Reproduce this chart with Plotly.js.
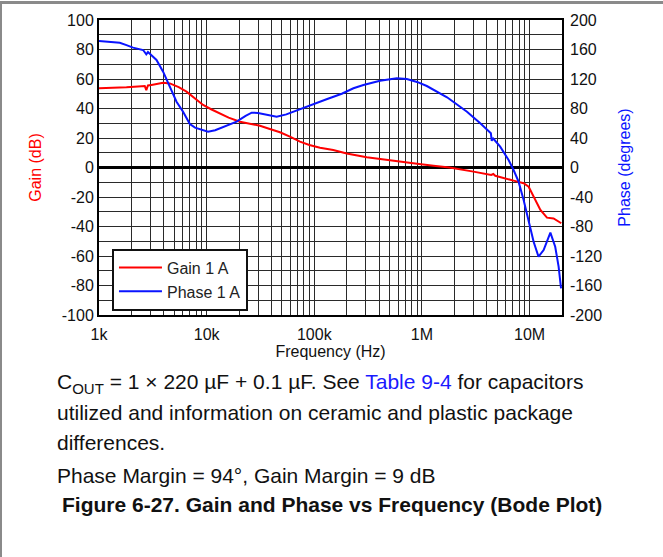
<!DOCTYPE html>
<html>
<head>
<meta charset="utf-8">
<script src="https://cdn.plot.ly/plotly-3.0.1.min.js"></script>
<style>
  html, body { margin: 0; padding: 0; background: #fff; }
  #wrap { position: relative; width: 663px; height: 557px; overflow: hidden; font-family: "Liberation Sans", Arial, sans-serif; }
  #chart { position: absolute; left: 0; top: 0; width: 663px; height: 557px; }
  #frameTop { position: absolute; left: 0; top: 1px; width: 663px; height: 0; border-top: 3px solid #8a8a8a; }
  #frameLeft { position: absolute; left: 0; top: 1px; width: 0; height: 556px; border-left: 2px solid #8a8a8a; }
  .txt { position: absolute; font-size: 21px; line-height: 21px; color: #111; white-space: nowrap; }
  .cap { font-weight: bold; }
  sub { font-size: 15px; vertical-align: -5px; line-height: 0; }
  .link { color: #1a1aff; }
</style>
</head>
<body>
<div id="wrap">
  <div id="chart"></div>
  <div id="frameTop"></div>
  <div id="frameLeft"></div>
  <div class="txt" style="left:57px; top:371px;">C<sub>OUT</sub> = 1 × 220 µF + 0.1 µF. See <span class="link">Table 9-4</span> for capacitors</div>
  <div class="txt" style="left:57px; top:402px;">utilized and information on ceramic and plastic package</div>
  <div class="txt" style="left:57px; top:432px;">differences.</div>
  <div class="txt" style="left:57px; top:465px;">Phase Margin = 94°, Gain Margin = 9 dB</div>
  <div class="txt cap" style="left:62px; top:494px;">Figure 6-27. Gain and Phase vs Frequency (Bode Plot)</div>
</div>
<script>
// ---- Data ----
const gainFreq = [1000, 1400, 1800, 2300, 2660, 2750, 2850, 3070, 3500, 3940, 4550, 5500, 6500, 8000, 9270,
  11000, 13300, 16000, 20400, 25000, 31300, 38000, 48000, 60000, 73600, 90000, 113000, 150000, 200000,
  307000, 450000, 627000, 900000, 1280000, 1800000, 3010000, 4400000, 4600000, 4800000, 7100000,
  8800000, 9800000, 10900000, 12600000, 14500000, 16700000, 19700000];
const gainDb = [53.7, 54.0, 54.4, 55.0, 55.3, 52.5, 55.6, 56.0, 56.8, 57.5, 57.0, 54.5, 51.4, 46.5, 42.4,
  39.5, 36.7, 33.8, 31.0, 29.5, 28.3, 26.3, 23.9, 20.8, 17.5, 15.3, 13.4, 11.9, 9.5,
  6.9, 5.2, 3.9, 2.6, 1.2, 0.0, -2.8, -5.0, -4.4, -5.6, -8.9,
  -10.7, -13.0, -19.8, -28.8, -34.0, -34.5, -37.8];

const phaseFreq = [1000, 1200, 1560, 1800, 2070, 2570, 2700, 2750, 2850, 3100, 3420, 3940, 4550, 5250, 6040,
  6980, 7800, 8650, 10300, 12000, 13300, 16000, 19000, 23000, 26200, 30000, 33600, 38000, 44700, 55000,
  63800, 73600, 90000, 113000, 130000, 180000, 231000, 286000, 408000, 584000, 724000, 900000, 1110000,
  1710000, 2620000, 3480000, 4370000, 4450000, 4550000, 5330000, 6380000, 7100000, 7900000, 8800000,
  9800000, 10900000, 12100000, 13500000, 15600000, 17300000, 18600000, 19600000];
const phaseDeg = [171.5, 170.5, 169.2, 166, 162.5, 159.3, 156, 153.5, 156.5, 152, 145.8, 129.9, 109.6, 89.2, 75.7,
  59, 54, 51.8, 48.5, 50.5, 53.2, 57.5, 62.1, 70, 74.3, 74, 72.5, 71, 69, 72,
  75.7, 78.9, 83.5, 89.2, 92.5, 100, 107.4, 111.9, 117.7, 121, 120, 116, 110.5,
  95.2, 75.7, 59.9, 46.4, 36, 40, 28.2, 10.2, -3.4, -19.2, -44,
  -71, -100.6, -120.9, -111.9, -88.4, -107.4, -134.5, -163.8];

const seriesNames = ['Gain 1 A', 'Phase 1 A'];

// Tick labels
const gainTicks = [-100, -80, -60, -40, -20, 0, 20, 40, 60, 80, 100];
const gainTickText = ['-100', '-80', '-60', '-40', '-20', '0', '20', '40', '60', '80', '100'];
const phaseTicks = [-200, -160, -120, -80, -40, 0, 40, 80, 120, 160, 200];
const phaseTickText = ['-200', '-160', '-120', '-80', '-40', '0', '40', '80', '120', '160', '200'];
const decadeVals = [1000, 10000, 100000, 1000000, 10000000];
const decadeText = ['1k', '10k', '100k', '1M', '10M'];

const xTickVals = [];
const xTickText = [];
decadeVals.forEach((d, i) => {
  for (let m = 1; m <= 9; m++) {
    const v = d * m;
    if (v > 20000000) break;
    xTickVals.push(v);
    xTickText.push(m === 1 ? decadeText[i] : '');
  }
});

const FONT = '"Liberation Sans", Arial, sans-serif';
const GRID = '#2a2a2a';

const traces = [
  { x: gainFreq, y: gainDb, type: 'scatter', mode: 'lines', name: seriesNames[0],
    line: { color: '#ff0000', width: 2 }, yaxis: 'y' },
  { x: phaseFreq, y: phaseDeg, type: 'scatter', mode: 'lines', name: seriesNames[1],
    line: { color: '#0a14ff', width: 2 }, yaxis: 'y2' }
];

const layout = {
  width: 663, height: 557,
  margin: { l: 99, r: 101, t: 20, b: 242, pad: 0 },
  paper_bgcolor: 'rgba(0,0,0,0)', plot_bgcolor: '#fff',
  font: { family: FONT, size: 16, color: '#111' },
  showlegend: true,
  legend: {
    x: 0.028, y: 0.225, xanchor: 'left', yanchor: 'top',
    bgcolor: '#fff', bordercolor: '#111', borderwidth: 2,
    font: { family: FONT, size: 16, color: '#222' },
    tracegroupgap: 0, itemwidth: 43
  },
  xaxis: {
    type: 'log', range: [3, Math.log10(20000000)],
    tickmode: 'array', tickvals: xTickVals, ticktext: xTickText,
    showgrid: true, gridcolor: GRID, gridwidth: 1,
    showline: true, linecolor: '#000', linewidth: 2, mirror: true,
    ticks: '', ticklabelstandoff: 4, tickfont: { size: 16, color: '#111' },
    title: { text: 'Frequency (Hz)', font: { size: 16, color: '#111' }, standoff: 2 },
    zeroline: false, automargin: false
  },
  yaxis: {
    range: [-100, 100], tickmode: 'array', tickvals: gainTicks, ticktext: gainTickText,
    showgrid: true, gridcolor: GRID, gridwidth: 1,
    minor: { dtick: 10, showgrid: true, gridcolor: GRID, gridwidth: 1, ticks: '' },
    zeroline: true, zerolinecolor: '#000', zerolinewidth: 3,
    showline: true, linecolor: '#000', linewidth: 2, mirror: true,
    ticks: '', tickfont: { size: 16, color: '#111' },
    title: { text: 'Gain (dB)', font: { size: 16, color: '#ff0000' }, standoff: 16 },
    automargin: false
  },
  yaxis2: {
    overlaying: 'y', side: 'right',
    range: [-200, 200], tickmode: 'array', tickvals: phaseTicks, ticktext: phaseTickText,
    showgrid: false, zeroline: false, showline: false,
    ticks: '', ticklabelstandoff: 7, tickfont: { size: 16, color: '#111' },
    title: { text: 'Phase (degrees)', font: { size: 16, color: '#0a14ff' }, standoff: 17 },
    automargin: false
  }
};

Plotly.newPlot('chart', traces, layout, { displayModeBar: false, staticPlot: true });
</script>
</body>
</html>
